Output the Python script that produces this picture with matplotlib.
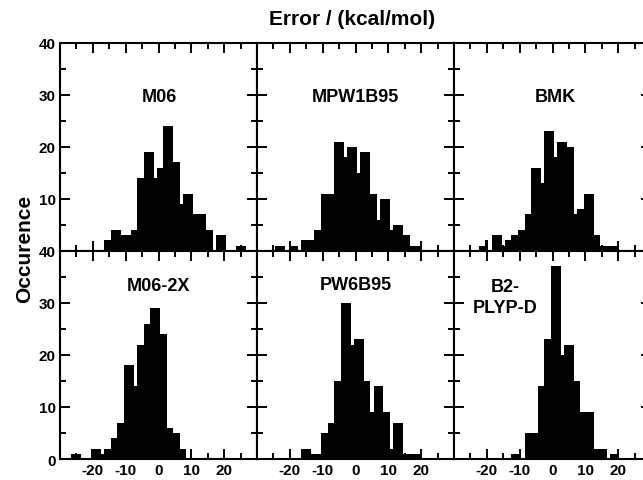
import matplotlib
matplotlib.use("Agg")
import matplotlib.pyplot as plt
from matplotlib.ticker import FixedLocator, FixedFormatter

plt.rcParams['font.family'] = ['Liberation Sans', 'DejaVu Sans']
plt.rcParams['font.weight'] = 'bold'
plt.rcParams['axes.unicode_minus'] = False

# histogram data: bin edges (kcal/mol) and counts
methods = ['M06', 'MPW1B95', 'BMK', 'M06-2X', 'PW6B95', 'B2-\nPLYP-D']

m06_edges = [-16.5, -14.5, -11.5, -8.5, -6.5, -4.5, -1.5, -0.5, 1.5, 4.5, 6.5, 7.5,
             10.5, 14.5, 16.5, 17.5, 20.5, 23.5, 26.5]
m06_counts = [2, 4, 3, 4, 14, 19, 14, 16, 24, 17, 9, 11, 7, 4, 0, 3, 0, 1]

mpw_edges = [-24.5, -21.5, -19.5, -17.5, -16.5, -12.5, -10.5, -6.5, -3.5, -2.5, 0.5,
             1.5, 4.5, 6.5, 7.5, 10.5, 11.5, 14.5, 16.5, 19.5]
mpw_counts = [1, 0, 1, 0, 2, 4, 11, 21, 18, 20, 15, 19, 11, 6, 10, 4, 5, 3, 1]

bmk_edges = [-22.5, -20.5, -19.5, -18.5, -15.5, -14.5, -12.5, -10.5, -8.5, -6.5, -3.5,
             -2.5, 0.5, 1.5, 4.5, 6.5, 7.5, 9.5, 12.5, 14.5, 19.5]
bmk_counts = [1, 2, 0, 3, 1, 2, 3, 4, 7, 16, 13, 23, 18, 21, 20, 7, 8, 11, 3, 1]

m062x_edges = [-26.5, -23.5, -20.5, -17.5, -16.5, -14.5, -12.5, -10.5, -7.5, -6.5,
               -4.5, -2.5, 0.5, 2.5, 4.5, 6.5, 8.5]
m062x_counts = [1, 0, 2, 1, 2, 4, 7, 18, 14, 22, 26, 29, 24, 6, 5, 2]

pw6_edges = [-16.5, -13.5, -10.5, -8.5, -6.5, -4.5, -1.5, -0.5, 2.5, 4.5, 5.5, 8.5,
             10.5, 11.5, 14.5, 19.5]
pw6_counts = [2, 1, 5, 7, 15, 30, 22, 23, 15, 9, 14, 9, 2, 7, 1]

b2_edges = [-12.5, -9.5, -8.5, -4.5, -2.5, -0.5, 2.5, 3.5, 6.5, 8.5, 12.5, 16.5,
            17.5, 19.5]
b2_counts = [1, 0, 5, 14, 23, 37, 20, 22, 15, 9, 2, 0, 1]

all_edges = [m06_edges, mpw_edges, bmk_edges, m062x_edges, pw6_edges, b2_edges]
all_counts = [m06_counts, mpw_counts, bmk_counts, m062x_counts, pw6_counts, b2_counts]

x_major = [-20, -10, 0, 10, 20]
x_minor = [-25, -15, -5, 5, 15, 25]
y_major = [0, 10, 20, 30, 40]
y_minor = [5, 15, 25, 35]

# label placement inside each panel (data coords)
label_pos = [(0.3, 29.7), (0, 29.7), (0.9, 29.7), (0, 33.3), (0, 33.6), (-14.3, 31.2)]

fig, axes = plt.subplots(2, 3, figsize=(6.43, 4.81), dpi=100)
fig.subplots_adjust(left=60 / 643, right=651 / 643, bottom=1 - 460 / 481,
                    top=1 - 43.7 / 481, wspace=0, hspace=0)

for i, ax in enumerate(axes.flat):
    row, col = divmod(i, 3)
    ax.stairs(all_counts[i], all_edges[i], fill=True, color='black', lw=0)
    ax.set_xlim(-30, 30)
    ax.set_ylim(0, 40)

    ax.xaxis.set_major_locator(FixedLocator(x_major))
    ax.xaxis.set_minor_locator(FixedLocator(x_minor))
    ax.yaxis.set_major_locator(FixedLocator(y_major))
    ax.yaxis.set_minor_locator(FixedLocator(y_minor))

    ax.tick_params(which='both', direction='in', top=True, right=True,
                   width=1.4, labelsize=11, pad=3)
    ax.tick_params(which='major', length=7.5)
    ax.tick_params(which='minor', length=4)
    for sp in ax.spines.values():
        sp.set_linewidth(1.5)

    if row == 1:
        ax.xaxis.set_major_formatter(FixedFormatter([str(v) for v in x_major]))
    else:
        ax.tick_params(labelbottom=False)
    if col == 0:
        labels = [str(v) for v in y_major]
        if row == 0:
            labels[0] = ''
        ax.yaxis.set_major_formatter(FixedFormatter(labels))
    else:
        ax.tick_params(labelleft=False)

    lx, ly = label_pos[i]
    ax.text(lx, ly, methods[i], ha='center', va='center', fontsize=13,
            fontweight='bold', multialignment='center', linespacing=1.3)

fig.text(0.547, 0.960, 'Error / (kcal/mol)', ha='center', va='center',
         fontsize=15, fontweight='bold')
fig.text(0.039, 0.482, 'Occurence', ha='center', va='center', rotation=90,
         fontsize=15, fontweight='bold')

plt.savefig('out.png', dpi=100)
